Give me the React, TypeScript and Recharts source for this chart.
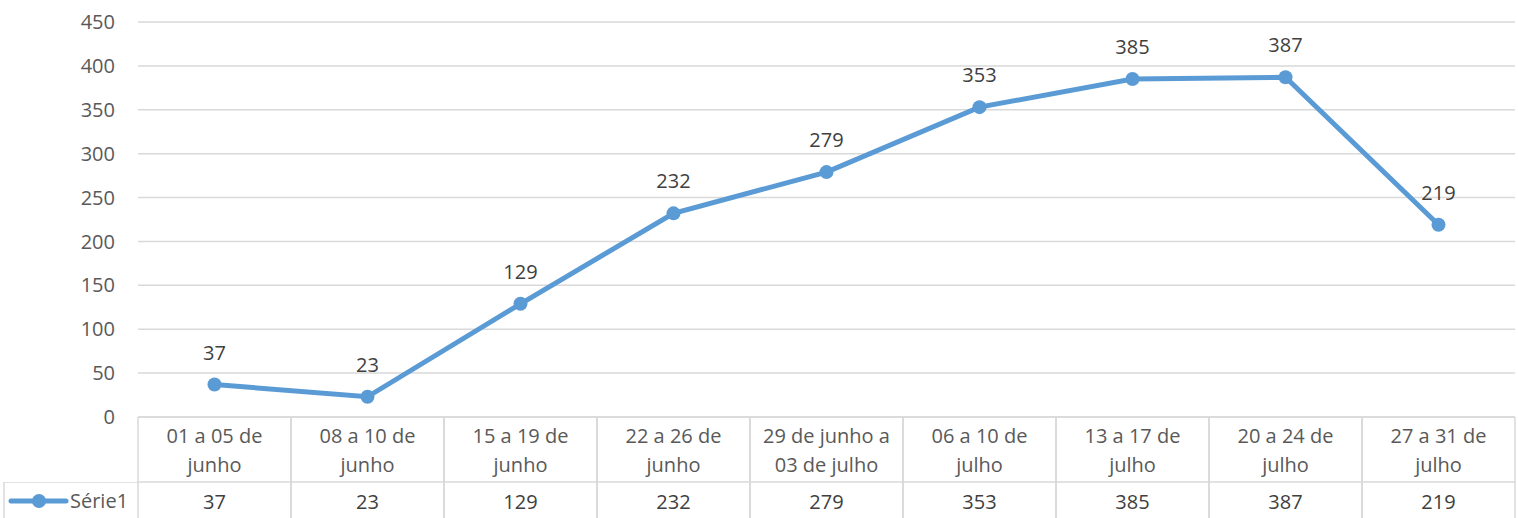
import React from "react";
import {
  LineChart,
  Line,
  XAxis,
  YAxis,
  CartesianGrid,
  LabelList,
  Legend,
} from "recharts";

const periods = [
  ["01 a 05 de", "junho"],
  ["08 a 10 de", "junho"],
  ["15 a 19 de", "junho"],
  ["22 a 26 de", "junho"],
  ["29 de junho a", "03 de julho"],
  ["06 a 10 de", "julho"],
  ["13 a 17 de", "julho"],
  ["20 a 24 de", "julho"],
  ["27 a 31 de", "julho"],
];
const serie1 = [37, 23, 129, 232, 279, 353, 385, 387, 219];
const yTicks = [0, 50, 100, 150, 200, 250, 300, 350, 400, 450];

const chartData = periods.map((p, i) => ({
  name: p.join(" "),
  lines: p,
  value: serie1[i],
}));

const W = 1518;
const H = 518;
const PLOT_LEFT = 138;
const PLOT_RIGHT = 1515;
const BAND = (PLOT_RIGHT - PLOT_LEFT) / periods.length;
const FONT = "'Open Sans', sans-serif";
const FS = 20;
const GRID = "#d9d9d9";
const BLUE = "#5b9bd5";

// category cell + value cell of the data table under the plot
function TableTick(props: any) {
  const { x, y, index } = props;
  const d = chartData[index];
  if (!d) return null;
  const l = x - BAND / 2;
  const r = x + BAND / 2;
  return (
    <g>
      <line x1={l} y1={y} x2={l} y2={H} stroke={GRID} strokeWidth={1.5} />
      <line x1={r} y1={y} x2={r} y2={H} stroke={GRID} strokeWidth={1.5} />
      <line x1={l} y1={y + 65} x2={r} y2={y + 65} stroke={GRID} strokeWidth={1.5} />
      <text x={x} y={y + 26} textAnchor="middle" fill="#595959" fontSize={FS} fontFamily={FONT}>
        {d.lines[0]}
      </text>
      <text x={x} y={y + 55} textAnchor="middle" fill="#595959" fontSize={FS} fontFamily={FONT}>
        {d.lines[1]}
      </text>
      <text x={x} y={y + 92} textAnchor="middle" fill="#404040" fontSize={FS} fontFamily={FONT}>
        {d.value}
      </text>
    </g>
  );
}

function LegendCell() {
  return (
    <svg width={PLOT_LEFT} height={H - 482} style={{ display: "block" }}>
      <line x1={4} y1={0} x2={PLOT_LEFT} y2={0} stroke={GRID} strokeWidth={1.5} />
      <line x1={4} y1={0} x2={4} y2={H - 482} stroke={GRID} strokeWidth={1.5} />
      <line x1={11} y1={19} x2={66} y2={19} stroke={BLUE} strokeWidth={5} strokeLinecap="round" />
      <circle cx={39} cy={19} r={7} fill={BLUE} />
      <text x={70} y={26} fill="#595959" fontSize={FS} fontFamily={FONT}>
        Série1
      </text>
    </svg>
  );
}

export default function App() {
  return (
    <div style={{ position: "absolute", left: 0, top: 0, width: W, height: H, background: "#fff" }}>
      <LineChart
        width={W}
        height={H}
        data={chartData}
        margin={{ top: 22, right: W - PLOT_RIGHT, left: 0, bottom: 0 }}
      >
        <CartesianGrid vertical={false} stroke={GRID} strokeWidth={1.5} />
        <XAxis
          dataKey="name"
          height={H - 417}
          interval={0}
          padding={{ left: BAND / 2, right: BAND / 2 }}
          tickLine={false}
          tickSize={0}
          tickMargin={0}
          axisLine={{ stroke: GRID, strokeWidth: 1.5 }}
          tick={<TableTick />}
        />
        <YAxis
          width={PLOT_LEFT}
          domain={[0, 450]}
          ticks={yTicks}
          interval={0}
          tickLine={false}
          axisLine={false}
          tickSize={6}
          tickMargin={17}
          tick={{ fill: "#595959", fontSize: FS, fontFamily: FONT }}
        />
        <Legend
          layout="horizontal"
          verticalAlign="middle"
          align="center"
          wrapperStyle={{ position: "absolute", left: 0, top: 482, width: PLOT_LEFT, height: H - 482 }}
          content={() => <LegendCell />}
        />
        <Line
          type="linear"
          dataKey="value"
          name="Série1"
          stroke={BLUE}
          strokeWidth={5}
          dot={{ r: 7, fill: BLUE, stroke: BLUE, strokeWidth: 0 }}
          activeDot={false}
          isAnimationActive={false}
        >
          <LabelList
            dataKey="value"
            position="top"
            offset={25}
            fill="#404040"
            fontSize={FS}
            fontFamily={FONT}
          />
        </Line>
      </LineChart>
    </div>
  );
}
